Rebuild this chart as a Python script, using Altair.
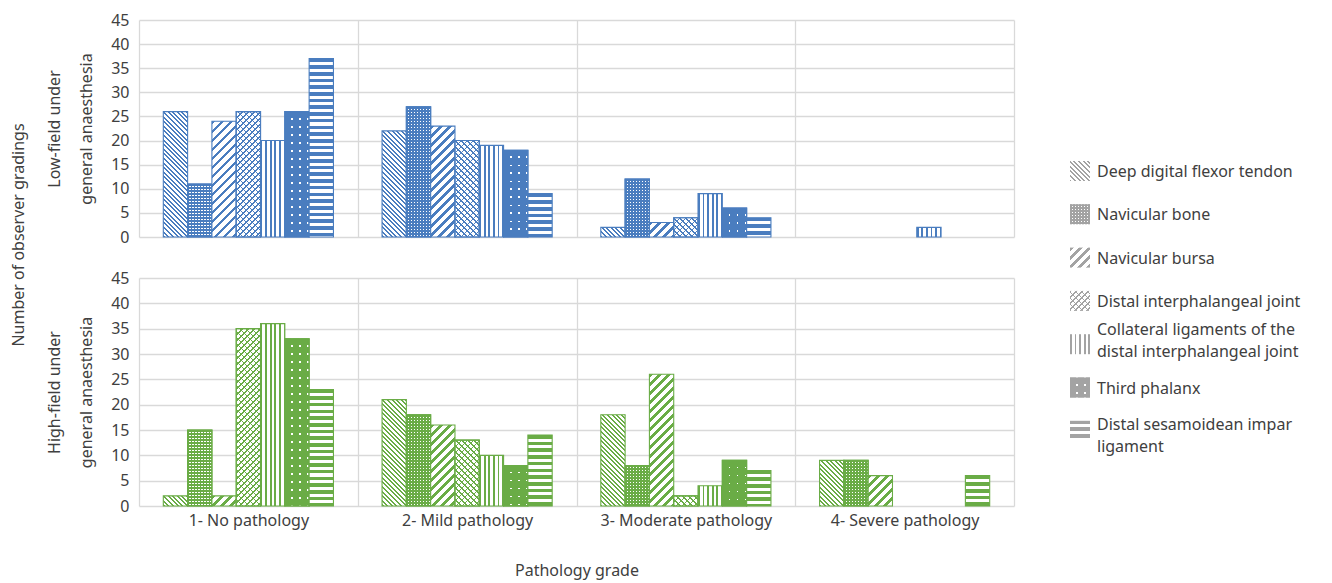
import altair as alt
import pandas as pd

# ---------------- data ----------------
GRADES = ["1- No pathology", "2- Mild pathology", "3- Moderate pathology", "4- Severe pathology"]
STRUCTURES = [
    "Deep digital flexor tendon",
    "Navicular bone",
    "Navicular bursa",
    "Distal interphalangeal joint",
    "Collateral ligaments of the distal interphalangeal joint",
    "Third phalanx",
    "Distal sesamoidean impar ligament",
]
LEGEND_LABELS = [
    "Deep digital flexor tendon",
    "Navicular bone",
    "Navicular bursa",
    "Distal interphalangeal joint",
    "Collateral ligaments of the\ndistal interphalangeal joint",
    "Third phalanx",
    "Distal sesamoidean impar\nligament",
]

LOW_DDFT = [26, 22, 2, 0]
LOW_NAV_BONE = [11, 27, 12, 0]
LOW_NAV_BURSA = [24, 23, 3, 0]
LOW_DIP = [26, 20, 4, 0]
LOW_COLLATERAL = [20, 19, 9, 2]
LOW_P3 = [26, 18, 6, 0]
LOW_DSIL = [37, 9, 4, 0]

HIGH_DDFT = [2, 21, 18, 9]
HIGH_NAV_BONE = [15, 18, 8, 9]
HIGH_NAV_BURSA = [2, 16, 26, 6]
HIGH_DIP = [35, 13, 2, 0]
HIGH_COLLATERAL = [36, 10, 4, 0]
HIGH_P3 = [33, 8, 9, 0]
HIGH_DSIL = [23, 14, 7, 6]

LOW_FIELD = [LOW_DDFT, LOW_NAV_BONE, LOW_NAV_BURSA, LOW_DIP, LOW_COLLATERAL, LOW_P3, LOW_DSIL]
HIGH_FIELD = [HIGH_DDFT, HIGH_NAV_BONE, HIGH_NAV_BURSA, HIGH_DIP, HIGH_COLLATERAL, HIGH_P3, HIGH_DSIL]

# ---------------- style ----------------
PATTERNS = ["falling", "grid", "rising", "zigzag", "vertical", "dots", "horizontal"]
LEGEND_TEXT_SHIFT = [1, 1, 1, 1, -14, 1, -6]
FONT = "Noto Sans"
TEXT = "#404040"
GRID = "#d9d9d9"
BLUE = "#4a7dbf"
GREEN = "#6aac46"
LEGEND_GRAY = "#a3a3a3"
CLEAR = "rgba(255,255,255,0)"

PLOT_W = 875
TOP_H = 217
BOTTOM_H = 228
Y_MAX = 45
BAR_PAD_OUTER = 1.0
BAR_W = PLOT_W / len(GRADES) / (len(STRUCTURES) + 2 * BAR_PAD_OUTER)


def stripe_stops(length, period, ink_w, ink, paper):
    stops = []
    k = 0
    while k * period < length:
        a = k * period / length
        b = min((k * period + ink_w) / length, 1.0)
        c = min((k + 1) * period / length, 1.0)
        stops += [
            {"offset": round(a, 5), "color": ink},
            {"offset": round(b, 5), "color": ink},
            {"offset": round(b, 5), "color": paper},
            {"offset": round(c, 5), "color": paper},
        ]
        k += 1
    return stops


def linear(x1, y1, x2, y2, stops):
    return {"gradient": "linear", "x1": x1, "y1": y1, "x2": x2, "y2": y2, "stops": stops}


def vertical_lines(w, h, period, ink_w, ink, paper):
    return linear(0, 0, 1, 0, stripe_stops(w, period, ink_w, ink, paper))


def horizontal_lines(w, h, period, ink_w, ink, paper):
    return linear(0, 0, 0, 1, stripe_stops(h, period, ink_w, ink, paper))


def rising_lines(w, h, period, ink_w, ink, paper):
    lam = (w + h) / (w * w + h * h)
    return linear(0, 0, lam * w, lam * h, stripe_stops(w + h, period, ink_w, ink, paper))


def falling_lines(w, h, period, ink_w, ink, paper):
    lam = (w + h) / (w * w + h * h)
    return linear(0, 1, lam * w, 1 - lam * h, stripe_stops(w + h, period, ink_w, ink, paper))


def pattern_fills(kind, ink, w, h):
    if kind == "falling":
        return [falling_lines(w, h, 4.6, 2.0, ink, "white")]
    if kind == "grid":
        return [vertical_lines(w, h, 3.0, 1.8, ink, "white"),
                horizontal_lines(w, h, 3.0, 1.8, ink, CLEAR)]
    if kind == "rising":
        return [rising_lines(w, h, 9.0, 3.8, ink, "white")]
    if kind == "zigzag":
        return [falling_lines(w, h, 6.0, 1.3, ink, "white"),
                rising_lines(w, h, 6.0, 1.3, ink, CLEAR)]
    if kind == "vertical":
        return [vertical_lines(w, h, 4.6, 1.8, ink, "white")]
    if kind == "dots":
        return [vertical_lines(w, h, 8.0, 6.3, ink, "white"),
                horizontal_lines(w, h, 8.0, 6.3, ink, CLEAR)]
    if kind == "horizontal":
        return [horizontal_lines(w, h, 6.7, 3.6, ink, "white")]
    return [ink]


def panel(values, ink, title_lines, bottom, height):
    px_per_unit = height / Y_MAX
    x_axis = alt.Axis(tickBand="extent", grid=True, ticks=False, domain=False,
                      labels=bottom, labelAngle=0, labelPadding=6, titlePadding=34)
    x = alt.X("grade:N", scale=alt.Scale(domain=GRADES, paddingInner=0, paddingOuter=0),
              axis=x_axis, title="Pathology grade" if bottom else None)
    xo = alt.XOffset("structure:N",
                     scale=alt.Scale(domain=STRUCTURES, paddingInner=0, paddingOuter=BAR_PAD_OUTER))
    y = alt.Y("count:Q", scale=alt.Scale(domain=[0, Y_MAX], nice=False),
              axis=alt.Axis(values=list(range(0, Y_MAX + 1, 5)), grid=True, ticks=False,
                            domain=False, labelPadding=10,
                            titlePadding=16, titleLineHeight=32),
              title=title_lines)
    layers = []
    for s, (name, vals) in enumerate(zip(STRUCTURES, values)):
        for g, (grade, v) in enumerate(zip(GRADES, vals)):
            if v <= 0:
                continue
            df = pd.DataFrame({"grade": [grade], "structure": [name], "count": [v]})
            h = v * px_per_unit
            for fill in pattern_fills(PATTERNS[s], ink, BAR_W, h):
                layers.append(
                    alt.Chart(df).mark_bar(fill=fill, stroke=ink, strokeWidth=1.1)
                    .encode(x=x, xOffset=xo, y=y)
                )
    return alt.layer(*layers).properties(width=PLOT_W, height=height)


top = panel(LOW_FIELD, BLUE, ["Low-field under", "general anaesthesia"], False, TOP_H)
bottom = panel(HIGH_FIELD, GREEN, ["High-field under", "general anaesthesia"], True, BOTTOM_H)

panels = alt.vconcat(top, bottom, spacing=41, bounds="flush").properties(
    title=alt.TitleParams(text="Number of observer gradings", orient="left", anchor="middle",
                          font=FONT, fontSize=16, fontWeight="normal", color=TEXT, offset=20,
                          dx=60)
)

# ---------------- hand-built legend ----------------
LEGEND_H = 486
LEGEND_FIRST = 151.0   # px from legend top to first swatch centre
LEGEND_STEP = 43.3     # px between swatch centres
legend_df = pd.DataFrame({
    "label": LEGEND_LABELS,
    "order": list(range(len(LEGEND_LABELS))),
})
d0 = -LEGEND_FIRST / LEGEND_STEP
d1 = d0 + LEGEND_H / LEGEND_STEP
ly = alt.Y("order:Q", scale=alt.Scale(domain=[d0, d1], reverse=True, nice=False, zero=False),
           axis=None)
legend_layers = []
for i, kind in enumerate(PATTERNS):
    for fill in pattern_fills(kind, LEGEND_GRAY, 20, 20):
        legend_layers.append(
            alt.Chart(legend_df.iloc[[i]]).mark_point(shape="square", filled=True, size=400,
                                                      fill=fill, strokeWidth=0, opacity=1)
            .encode(x=alt.value(21), y=ly)
        )
for i, shift in enumerate(LEGEND_TEXT_SHIFT):
    legend_layers.append(
        alt.Chart(legend_df.iloc[[i]])
        .mark_text(align="left", baseline="middle", lineBreak="\n", font=FONT,
                   fontSize=16, color=TEXT, dy=shift, lineHeight=22)
        .encode(x=alt.value(38), y=ly, text="label:N")
    )
legend = alt.layer(*legend_layers).properties(width=245, height=LEGEND_H)

chart = (
    alt.hconcat(panels, legend, spacing=45)
    .properties(padding={"left": 2, "top": 4, "right": 2, "bottom": 2})
    .configure_view(strokeWidth=0)
    .configure_axis(labelFont=FONT, labelFontSize=16, labelColor=TEXT, titleFont=FONT,
                    titleFontSize=16, titleFontWeight="normal", titleColor=TEXT,
                    gridColor=GRID, gridWidth=1.3)
)

chart.save("out.html", embed_options={"renderer": "svg", "actions": False})
